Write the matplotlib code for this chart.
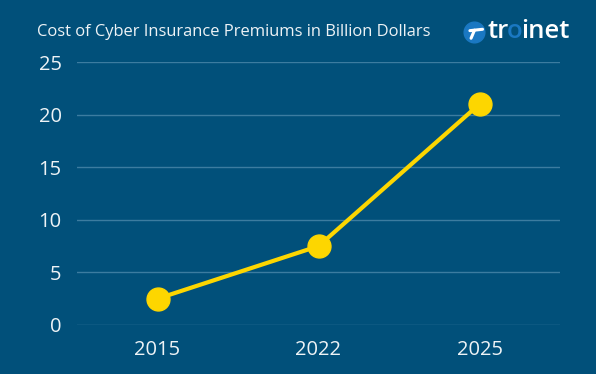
import matplotlib
matplotlib.use("Agg")
import matplotlib.pyplot as plt
from matplotlib.patches import Circle

years = ["2015", "2022", "2025"]
premiums = [2.5, 7.5, 21]
yticks = [0, 5, 10, 15, 20, 25]

BG = "#01507a"
GRID = "#3c7ca0"
YELLOW = "#fdd600"
TXT = "#eef3f6"
LOGO_BLUE = "#1a78c2"

plt.rcParams['font.family'] = ['Open Sans', 'DejaVu Sans']

fig = plt.figure(figsize=(5.96, 3.74), dpi=100, facecolor=BG)
ax = fig.add_axes([77/596, 49/374, 483/596, 263/374], facecolor=BG)

x = list(range(len(years)))
ax.plot(x, premiums, color=YELLOW, lw=3, marker="o", ms=16.5, zorder=3, clip_on=False)

ax.set_xlim(-0.5, len(years) - 0.5)
ax.set_ylim(0, 25)
ax.set_yticks(yticks)
ax.set_yticklabels([str(v) for v in yticks])
ax.set_xticks(x)
ax.set_xticklabels(years)
ax.grid(axis="y", color=GRID, lw=1)
ax.set_axisbelow(True)
for s in ax.spines.values():
    s.set_visible(False)
ax.tick_params(axis="both", length=0, colors=TXT, labelsize=14.5)
ax.tick_params(axis="y", pad=11)
ax.tick_params(axis="x", pad=11)

fig.text(37/596, 1 - 32/374, "Cost of Cyber Insurance Premiums in Billion Dollars",
         color=TXT, fontsize=11.9, ha="left", va="center")

# logo icon
logo_ax = fig.add_axes([463/596, 1 - 44/374, 23/596, 23/374])
logo_ax.set_xlim(0, 1); logo_ax.set_ylim(0, 1); logo_ax.axis("off")
logo_ax.set_aspect("equal")
logo_ax.add_patch(Circle((0.5, 0.5), 0.45, color=LOGO_BLUE))
logo_ax.plot([0.3, 0.85], [0.58, 0.64], color="white", lw=2.2, solid_capstyle="round")
logo_ax.plot([0.5, 0.35], [0.6, 0.25], color="white", lw=2.2, solid_capstyle="round")

# logo text, laid out piece by piece
ty = 1 - 31/374
renderer = fig.canvas.get_renderer()
xpos = 487
for piece, col in [("tr", "white"), ("o", LOGO_BLUE), ("inet", "white")]:
    t = fig.text(xpos/596, ty, piece, color=col, fontsize=18.5, fontweight="semibold",
                 ha="left", va="center")
    bb = t.get_window_extent(renderer=renderer)
    xpos = bb.x1 - 1.5

fig.savefig("out.png", dpi=100, facecolor=BG)
